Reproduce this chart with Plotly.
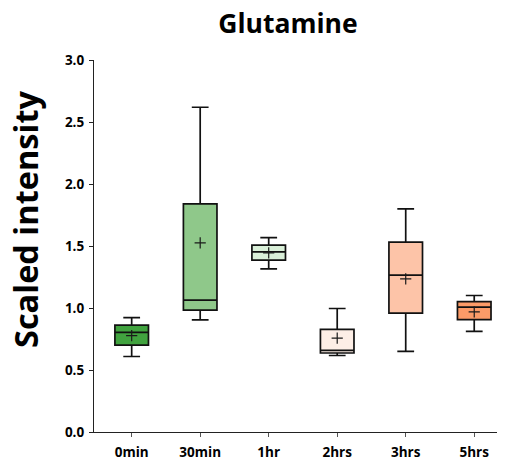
import plotly.graph_objects as go

categories = ["0min", "30min", "1hr", "2hrs", "3hrs", "5hrs"]
lower_whisker = [0.609, 0.905, 1.316, 0.617, 0.650, 0.811]
q1 = [0.701, 0.983, 1.386, 0.637, 0.959, 0.907]
median = [0.803, 1.064, 1.453, 0.658, 1.265, 1.007]
q3 = [0.862, 1.840, 1.507, 0.827, 1.531, 1.052]
upper_whisker = [0.923, 2.619, 1.568, 0.996, 1.799, 1.101]
means = [0.778, 1.525, 1.445, 0.757, 1.235, 0.969]
colors = ["#41a33f", "#8fc88a", "#d9efd8", "#fdeee6", "#fdc4a8", "#fc9b68"]

FONT = "Open Sans"
# page body has an 8px default margin, so the figure is drawn 8px smaller
W, H = 497, 455
ML, MR, MT, MB = 86, 2, 52, 31

fig = go.Figure()
for i, cat in enumerate(categories):
    fig.add_trace(go.Box(
        x=[cat], q1=[q1[i]], median=[median[i]], q3=[q3[i]],
        lowerfence=[lower_whisker[i]], upperfence=[upper_whisker[i]],
        fillcolor=colors[i], line=dict(color="#111111", width=1.7),
        width=0.49, whiskerwidth=0.5, boxpoints=False,
        showlegend=False, hoverinfo="skip",
    ))

fig.add_trace(go.Scatter(
    x=categories, y=means, mode="markers",
    marker=dict(symbol="cross-thin", size=8, line=dict(color="#1a1a1a", width=1.2)),
    showlegend=False, hoverinfo="skip",
))

plot_w = W - ML - MR
plot_h = H - MT - MB
fig.update_layout(
    width=W, height=H,
    margin=dict(l=ML, r=MR, t=MT, b=MB, autoexpand=False),
    paper_bgcolor="white", plot_bgcolor="white",
    title=dict(text="<b>Glutamine</b>", x=280 / W, xanchor="center",
               y=1 - 16 / H, yanchor="middle",
               font=dict(family=FONT, size=26.5, color="black")),
    font=dict(family=FONT, color="black"),
    annotations=[dict(
        text="<b>Scaled intensity</b>", textangle=-90,
        xref="paper", yref="paper",
        x=(18 - ML) / plot_w, xanchor="center",
        y=(H - MB - 212) / plot_h, yanchor="middle", showarrow=False,
        font=dict(family=FONT, size=32.5, color="black"),
    )],
)
fig.update_xaxes(
    type="category", range=[-0.55, 5.42], automargin=False,
    showline=True, linecolor="#222", linewidth=1.2,
    ticks="outside", ticklen=4, tickcolor="#555", tickwidth=1.2,
    tickfont=dict(family=FONT, size=13.5, color="black"),
    tickprefix="<b>", ticksuffix="</b>", ticklabelstandoff=4,
    showgrid=False, zeroline=False,
)
fig.update_yaxes(
    range=[0, 3.0], dtick=0.5, tickformat=".1f", automargin=False,
    showline=True, linecolor="#222", linewidth=1.2,
    ticks="outside", ticklen=4, tickcolor="#222", tickwidth=1.2,
    tickfont=dict(family=FONT, size=13.5, color="black"),
    tickprefix="<b>", ticksuffix="</b>", ticklabelstandoff=2,
    showgrid=False, zeroline=False,
)

fig.write_html("out.html")
